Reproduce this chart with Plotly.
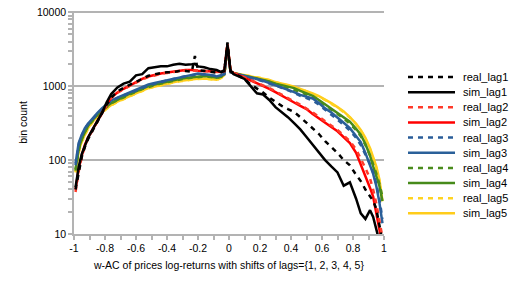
import plotly.graph_objects as go

# ---------------- data ----------------
X = [-0.99, -0.97, -0.95, -0.93, -0.91, -0.88, -0.85, -0.82, -0.79, -0.76,
     -0.72, -0.68, -0.64, -0.60, -0.56, -0.52, -0.48, -0.44, -0.40, -0.36,
     -0.32, -0.28, -0.24, -0.22, -0.20, -0.16, -0.12, -0.08, -0.05, -0.03,
     -0.01, 0.01, 0.03, 0.06, 0.10, 0.14, 0.18, 0.22, 0.26, 0.30,
     0.34, 0.38, 0.42, 0.46, 0.50, 0.54, 0.58, 0.62, 0.66, 0.70,
     0.74, 0.78, 0.82, 0.85, 0.88, 0.91, 0.93, 0.95, 0.97, 0.99]

real_lag1 = [40, 70, 110, 150, 190, 250, 330, 420, 560, 700,
             850, 950, 1050, 1150, 1250, 1380, 1450, 1500, 1540, 1550,
             1600, 1600, 1560, 2550, 1650, 1600, 1560, 1520, 1550, 1600,
             3900, 1600, 1500, 1400, 1250, 1050, 940, 820, 700, 610,
             540, 490, 447, 380, 320, 270, 225, 180, 150, 125,
             100, 85, 63, 52, 40, 33, 28, 22, 14, 8]
sim_lag1 = [43, 80, 120, 160, 200, 260, 340, 430, 600, 780,
            960, 1080, 1150, 1400, 1450, 1750, 1800, 1850, 1850, 1950,
            2000, 1950, 1980, 2000, 1850, 1800, 1700, 1650, 1550, 1650,
            3600, 1600, 1450, 1350, 1250, 1000, 800, 770, 650, 520,
            450, 380, 316, 260, 205, 160, 125, 100, 82, 68,
            45, 50, 30, 19, 16, 21, 17, 12, 8, 5]
real_lag2 = [37, 70, 110, 155, 195, 255, 335, 425, 550, 690,
             810, 910, 1010, 1130, 1230, 1330, 1400, 1460, 1510, 1560,
             1600, 1630, 1630, 1640, 1620, 1600, 1570, 1550, 1540, 1600,
             3800, 1600, 1500, 1430, 1320, 1220, 1120, 1030, 940, 850,
             760, 690, 620, 560, 500, 440, 385, 335, 290, 255,
             215, 180, 140, 105, 78, 56, 40, 26, 16, 9]
sim_lag2 = [40, 75, 115, 160, 200, 260, 340, 430, 560, 700,
            820, 920, 1020, 1150, 1250, 1350, 1420, 1480, 1530, 1580,
            1620, 1650, 1650, 1650, 1620, 1600, 1580, 1560, 1550, 1600,
            3700, 1600, 1500, 1420, 1300, 1200, 1100, 1020, 920, 830,
            740, 670, 600, 540, 490, 420, 370, 320, 280, 245,
            205, 170, 125, 88, 62, 42, 32, 20, 13, 7]
real_lag3 = [85, 160, 215, 265, 305, 360, 425, 490, 560, 630,
             690, 750, 810, 870, 940, 1020, 1080, 1130, 1190, 1250,
             1310, 1360, 1400, 1430, 1450, 1440, 1400, 1370, 1400, 1470,
             3600, 1550, 1480, 1430, 1360, 1300, 1230, 1160, 1090, 1030,
             950, 880, 800, 740, 690, 640, 560, 480, 410, 360,
             300, 250, 200, 160, 120, 88, 68, 48, 30, 16]
sim_lag3 = [90, 170, 220, 270, 310, 370, 430, 500, 570, 640,
            700, 760, 820, 890, 950, 1050, 1100, 1150, 1200, 1270,
            1330, 1380, 1420, 1450, 1480, 1450, 1420, 1350, 1400, 1450,
            3500, 1550, 1500, 1450, 1380, 1320, 1250, 1180, 1100, 1040,
            970, 900, 830, 760, 720, 680, 590, 500, 440, 380,
            320, 270, 215, 175, 125, 85, 65, 45, 27, 14]
real_lag4 = [72, 135, 190, 240, 285, 345, 405, 465, 525, 585,
             645, 710, 780, 840, 910, 980, 1030, 1080, 1130, 1180,
             1230, 1270, 1300, 1320, 1340, 1350, 1330, 1290, 1340, 1450,
             3600, 1550, 1490, 1440, 1380, 1330, 1270, 1210, 1140, 1070,
             1010, 950, 900, 830, 770, 710, 630, 550, 480, 420,
             365, 310, 255, 210, 160, 115, 88, 66, 48, 32]
sim_lag4 = [75, 140, 195, 245, 290, 350, 410, 470, 530, 590,
            650, 720, 790, 850, 930, 1000, 1050, 1100, 1150, 1200,
            1250, 1290, 1320, 1340, 1360, 1370, 1350, 1300, 1350, 1450,
            3500, 1550, 1500, 1450, 1400, 1350, 1280, 1230, 1160, 1080,
            1030, 980, 940, 860, 800, 740, 650, 570, 500, 440,
            385, 330, 265, 220, 165, 115, 82, 62, 45, 28]
real_lag5 = [68, 125, 175, 220, 265, 325, 380, 435, 495, 550,
             610, 670, 735, 795, 860, 930, 980, 1030, 1080, 1120,
             1160, 1200, 1230, 1240, 1250, 1260, 1240, 1210, 1290, 1420,
             3500, 1550, 1490, 1450, 1410, 1370, 1320, 1270, 1200, 1120,
             1070, 1020, 970, 910, 850, 790, 720, 650, 580, 510,
             445, 375, 305, 250, 195, 140, 105, 78, 52, 26]
sim_lag5 = [70, 130, 180, 225, 270, 330, 385, 440, 500, 555,
            615, 675, 740, 800, 870, 940, 990, 1040, 1090, 1130,
            1170, 1210, 1240, 1250, 1260, 1270, 1250, 1220, 1300, 1420,
            3400, 1550, 1500, 1460, 1420, 1380, 1330, 1280, 1210, 1130,
            1090, 1040, 980, 920, 860, 800, 730, 660, 590, 520,
            455, 380, 310, 255, 200, 145, 110, 82, 55, 28]

SERIES_NAMES = ["real_lag1", "sim_lag1", "real_lag2", "sim_lag2", "real_lag3",
                "sim_lag3", "real_lag4", "sim_lag4", "real_lag5", "sim_lag5"]
SERIES_VALUES = [real_lag1, sim_lag1, real_lag2, sim_lag2, real_lag3,
                 sim_lag3, real_lag4, sim_lag4, real_lag5, sim_lag5]

X_TICK_VALS = [-1, -0.8, -0.6, -0.4, -0.2, 0, 0.2, 0.4, 0.6, 0.8, 1]
X_TICK_TEXT = ["-1", "-0.8", "-0.6", "-0.4", "-0.2", "0", "0.2", "0.4", "0.6", "0.8", "1"]
Y_TICK_VALS = [10, 100, 1000, 10000]
Y_TICK_TEXT = ["10", "100", "1000", "10000"]

X_TITLE = "w-AC of prices log-returns with shifts of lags={1, 2, 3, 4, 5}"
Y_TITLE = "bin count"

# ---------------- styles ----------------
COLORS = ["#000000", "#000000", "#ff3a2a", "#ff0000", "#2a5d99",
          "#2a6099", "#4a8c1c", "#468a1a", "#ffd320", "#ffcc1a"]
DASHES = ["5px,5px", "solid"] * 5
LINE_W = 2.5
GRID = "#b3b3b3"
FONT = "Liberation Sans, Arial, sans-serif"
Y_RANGE = [1, 4.016]   # ~1px headroom so the 10000 gridline is drawn

W, H = 517, 291
ML, MR, MT, MB = 74, 133, 11, 57
PW, PH = W - ML - MR, H - MT - MB


def px_x(px):
    return (px - ML) / PW


def px_y(py):
    return (H - MB - py) / PH


fig = go.Figure()
order = list(range(len(SERIES_NAMES)))[::-1]
for i in order:
    fig.add_trace(go.Scatter(
        x=X, y=SERIES_VALUES[i], mode="lines", name=SERIES_NAMES[i],
        line=dict(color=COLORS[i], width=LINE_W, dash=DASHES[i]),
        showlegend=False, hoverinfo="x+y+name"))

minor_y = [m * 10 ** e for e in (1, 2, 3) for m in range(2, 10)]
minor_x = [round(-0.9 + 0.2 * k, 1) for k in range(10)]

tick_common = dict(tickcolor=GRID, tickwidth=1.5, ticklen=4)
ax_font = dict(family=FONT, size=10.5, color="#000000")
leg_font = dict(family=FONT, size=11, color="#000000")


def minor(kind, vals):
    return dict(tickmode="array", tickvals=vals, ticks=kind, showgrid=False,
                **tick_common)


fig.update_layout(
    width=W, height=H,
    margin=dict(l=ML, r=MR, t=MT, b=MB, autoexpand=False),
    paper_bgcolor="white", plot_bgcolor="white",
    font=ax_font,
    showlegend=False,
    xaxis=dict(range=[-1, 1], showgrid=False, zeroline=False, automargin=False,
               showline=True, linecolor=GRID, linewidth=1.5,
               ticks="outside", tickmode="array", tickvals=X_TICK_VALS,
               ticktext=X_TICK_TEXT, tickfont=ax_font, ticklabeloverflow="allow",
               minor=minor("outside", minor_x),
               title=dict(text=X_TITLE, font=ax_font, standoff=8),
               anchor="y", **tick_common),
    xaxis2=dict(range=[-1, 1], overlaying="x", anchor="y", automargin=False,
                showgrid=False, zeroline=False, showline=False,
                ticks="inside", tickmode="array", tickvals=X_TICK_VALS,
                showticklabels=False, minor=minor("inside", minor_x),
                **tick_common),
    yaxis=dict(type="log", range=Y_RANGE, showgrid=True, gridcolor=GRID,
               gridwidth=1.5, zeroline=False, showline=True, linecolor=GRID,
               linewidth=1.5, ticks="outside", tickmode="array", automargin=False,
               tickvals=Y_TICK_VALS, ticktext=Y_TICK_TEXT, tickfont=ax_font,
               ticklabeloverflow="allow",
               minor=minor("outside", minor_y),
               title=dict(text=Y_TITLE, font=ax_font, standoff=7),
               anchor="x", **tick_common),
    yaxis2=dict(type="log", range=Y_RANGE, overlaying="y", anchor="x",
                automargin=False,
                showgrid=False, zeroline=False, showline=False,
                ticks="inside", tickmode="array", tickvals=Y_TICK_VALS,
                showticklabels=False, minor=minor("inside", minor_y),
                **tick_common),
    yaxis3=dict(type="log", range=Y_RANGE, overlaying="y", anchor="free",
                position=0.5, side="left", automargin=False,
                showgrid=False, zeroline=False, showline=True, linecolor=GRID,
                linewidth=2, ticks="outside", tickmode="array",
                tickvals=Y_TICK_VALS, showticklabels=False,
                minor=minor("outside", minor_y), **tick_common),
    yaxis4=dict(type="log", range=Y_RANGE, overlaying="y", anchor="free",
                position=0.5, side="left", automargin=False,
                showgrid=False, zeroline=False, showline=False,
                ticks="inside", tickmode="array",
                tickvals=Y_TICK_VALS, showticklabels=False,
                minor=minor("inside", minor_y), **tick_common),
)

# manual legend (compact spacing like the original); positions in page pixels
LEG_TOP, LEG_STEP = 77, 15.15
LEG_X0, LEG_X1, LEG_TX = 408, 455, 461
for i, name in enumerate(SERIES_NAMES):
    yy = px_y(LEG_TOP + LEG_STEP * i)
    fig.add_shape(type="line", xref="paper", yref="paper",
                  x0=px_x(LEG_X0), x1=px_x(LEG_X1), y0=yy, y1=yy,
                  line=dict(color=COLORS[i], width=LINE_W, dash=DASHES[i]))
    fig.add_annotation(xref="paper", yref="paper", x=px_x(LEG_TX), y=yy,
                       text=name, showarrow=False, xanchor="left",
                       yanchor="middle", font=leg_font)

# remove the browser's default 8px page margin so the figure sits at (0, 0)
fig.write_html("out.html",
               config={"displayModeBar": False},
               post_script="document.body.style.margin='0';"
                           "document.body.style.overflow='hidden';")
